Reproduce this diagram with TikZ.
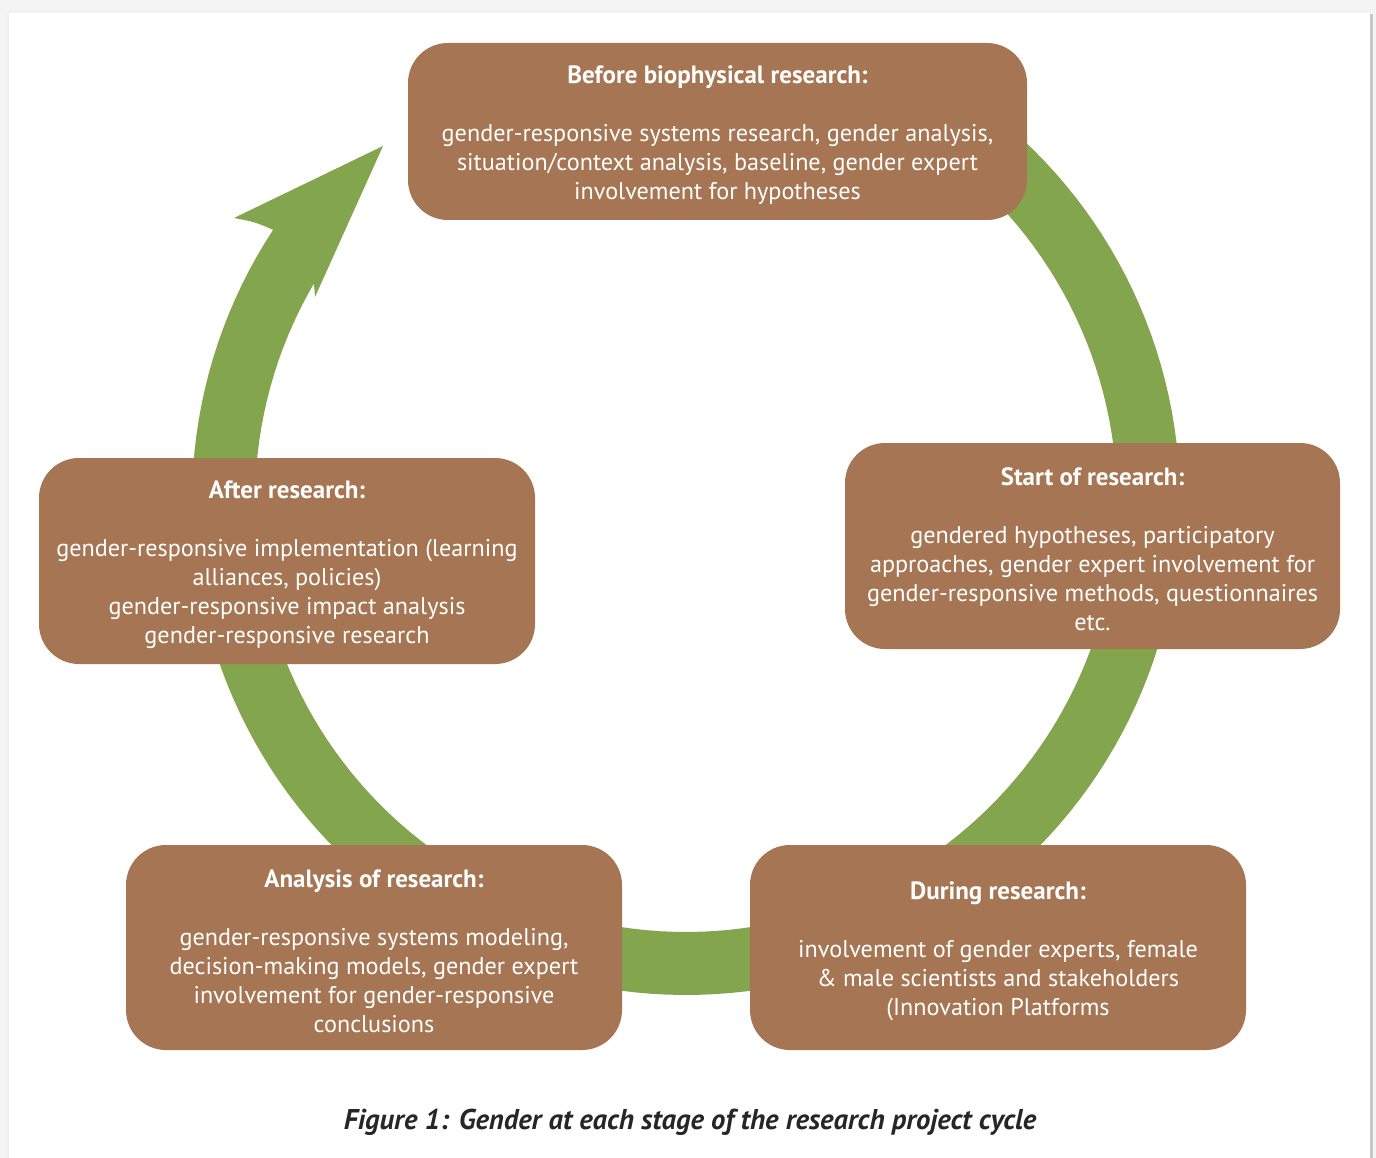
\documentclass[tikz,border=0pt]{standalone}
\usepackage{fontspec}
\setmainfont{PT Sans}
\definecolor{boxbrown}{RGB}{166,117,83}
\definecolor{ringgreen}{RGB}{131,165,77}
\definecolor{pagebg}{RGB}{244,244,244}
\definecolor{shadowgray}{RGB}{200,200,200}
\begin{document}
\begin{tikzpicture}[x=1pt,y=-1pt,
  stage/.style={fill=boxbrown, rounded corners=40pt, text=white, align=center,
    font=\fontsize{24.2}{29}\selectfont, inner sep=0pt}]
\newcommand{\hdrtext}[1]{{\fontsize{25}{29}\selectfont\bfseries\rule{0pt}{25pt}#1}}
\useasboundingbox (0,0) rectangle (1376,1158);
% page
\fill[pagebg] (0,0) rectangle (1376,1158);
\fill[white] (9,13) rectangle (1370,1158);
\fill[shadowgray] (1370,14) rectangle (1373,1158);
\fill[black!6] (6,12) rectangle (9,1158);
\fill[black!5] (8,10) rectangle (1370,13);
% ring with arrow
\fill[ringgreen] plot[domain=60:-213.3, samples=150] ({686+494*cos(\x)},{501-494*sin(\x)})
  .. controls (255,222) .. (234,218) -- (383,146) -- (315,297)
  .. controls (314,282) .. (310,268)
  -- plot[domain=-211.8:60, samples=150] ({686+431*cos(\x)},{501-431*sin(\x)}) -- cycle;
% boxes
\node[stage, minimum width=619pt, minimum height=177pt] (before) at (717.5,131.5)
  {\hdrtext{Before biophysical research:}\\[29pt]
   gender-responsive systems research, gender analysis,\\
   situation/context analysis, baseline, gender expert\\
   involvement for hypotheses};
\node[stage, minimum width=495pt, minimum height=206pt] (start) at (1092.5,546)
  {\hdrtext{Start of research:}\\[29pt]
   gendered hypotheses, participatory\\
   approaches, gender expert involvement for\\
   gender-responsive methods, questionnaires\\
   etc.};
\node[stage, minimum width=496pt, minimum height=206pt] (after) at (287,561)
  {\hdrtext{After research:}\\[29pt]
   gender-responsive implementation (learning\\
   alliances, policies)\\
   gender-responsive impact analysis\\
   gender-responsive research};
\node[stage, minimum width=496pt, minimum height=205pt] (analysis) at (374,947.5)
  {\hdrtext{Analysis of research:}\\[29pt]
   gender-responsive systems modeling,\\
   decision-making models, gender expert\\
   involvement for gender-responsive\\
   conclusions};
\node[stage, minimum width=496pt, minimum height=205pt] (during) at (998,947.5)
  {\hdrtext{During research:}\\[29pt]
   involvement of gender experts, female\\
   \& male scientists and stakeholders\\
   (Innovation Platforms};
\node[font=\fontsize{28.6}{30}\selectfont\bfseries\itshape, text=black!85] (caption) at (690,1122)
  {Figure 1: Gender at each stage of the research project cycle};
\end{tikzpicture}
\end{document}
